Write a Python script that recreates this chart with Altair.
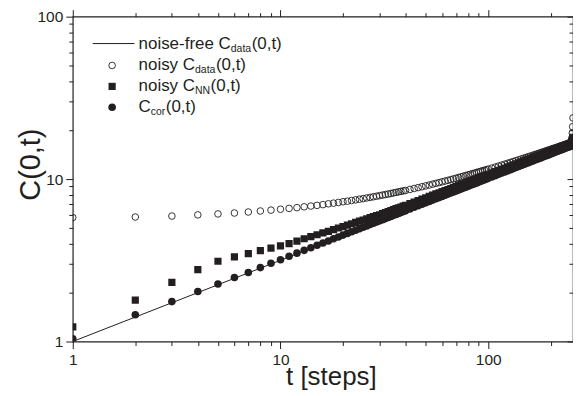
import altair as alt
import pandas as pd

# ---------------- data ----------------
t_steps = [1, 2, 3, 4, 5, 6, 7, 8, 9, 10, 11, 12, 13, 14, 15, 16, 17, 18, 19, 20,
           21, 22, 23, 24, 25, 26, 27, 28, 29, 30, 31, 32, 33, 34, 35, 36, 37, 38, 39, 40,
           42, 44, 46, 48, 50, 52, 54, 56, 58, 60, 62, 64, 66, 68, 70, 72, 74, 76, 78, 80,
           82, 84, 86, 88, 90, 92, 94, 96, 98, 100,
           104, 108, 112, 116, 120, 124, 128, 132, 136, 140, 144, 148, 152, 156, 160, 164,
           168, 172, 176, 180, 184, 188, 192, 196, 200, 204, 208, 212, 216, 220, 224, 228,
           232, 236, 240, 244, 248, 250, 252, 253, 254, 255, 256]

c_cor = [1.04, 1.46, 1.76, 2.03, 2.26, 2.48, 2.66, 2.85, 3.03, 3.19, 3.35, 3.50, 3.64, 3.78,
         3.91, 4.04, 4.16, 4.29, 4.40, 4.52, 4.63, 4.74, 4.84, 4.95, 5.05, 5.15, 5.25, 5.35,
         5.44, 5.53, 5.62, 5.71, 5.80, 5.89, 5.98, 6.06, 6.14, 6.23, 6.31, 6.39,
         6.55, 6.70, 6.85, 7.00, 7.14, 7.28, 7.42, 7.56, 7.69, 7.82, 7.95, 8.08, 8.21, 8.33,
         8.45, 8.57, 8.69, 8.81, 8.92, 9.03, 9.15, 9.26, 9.37, 9.47, 9.58, 9.69, 9.79, 9.90,
         10.0, 10.1,
         10.3, 10.5, 10.69, 10.88, 11.06, 11.25, 11.43, 11.6, 11.78, 11.95, 12.12, 12.29,
         12.45, 12.61, 12.78, 12.93, 13.09, 13.25, 13.4, 13.55, 13.7, 13.85, 13.99, 14.14,
         14.28, 14.43, 14.57, 14.71, 14.84, 14.98, 15.12, 15.25, 15.38, 15.52, 15.65, 15.78,
         15.9, 16.0, 16.1, 16.25, 16.45, 16.75, 17.2]

c_nn = [1.23, 1.80, 2.31, 2.77, 3.12, 3.32, 3.48, 3.63, 3.76, 3.88, 4.01, 4.15, 4.29, 4.42,
        4.54, 4.66, 4.77, 4.89, 5.00, 5.10, 5.21, 5.31, 5.41, 5.51, 5.60, 5.70, 5.79, 5.88,
        5.96, 6.03, 6.12, 6.21, 6.30, 6.39, 6.48, 6.57, 6.65, 6.73, 6.81, 6.89,
        7.06, 7.22, 7.38, 7.53, 7.67, 7.82, 7.96, 8.10, 8.23, 8.37, 8.50, 8.62, 8.75, 8.87,
        9.00, 9.12, 9.24, 9.36, 9.48, 9.59, 9.71, 9.82, 9.94, 10.05, 10.16, 10.27, 10.38,
        10.48, 10.59, 10.70,
        10.91, 11.11, 11.31, 11.51, 11.69, 11.88, 12.07, 12.24, 12.42, 12.60, 12.77, 12.94,
        13.11, 13.27, 13.44, 13.60, 13.76, 13.91, 14.06, 14.22, 14.37, 14.52, 14.66, 14.81,
        14.95, 15.09, 15.23, 15.37, 15.51, 15.65, 15.78, 15.91, 16.04, 16.17, 16.30, 16.43,
        16.56, 16.66, 16.8, 17.0, 17.3, 17.6, 18.1]

c_noisy = [5.80, 5.84, 5.92, 6.02, 6.10, 6.18, 6.27, 6.36, 6.44, 6.52, 6.60, 6.67, 6.75, 6.82,
           6.89, 6.96, 7.04, 7.11, 7.18, 7.25, 7.31, 7.38, 7.45, 7.52, 7.58, 7.65, 7.71, 7.78,
           7.84, 7.91, 7.97, 8.03, 8.09, 8.15, 8.22, 8.28, 8.34, 8.40, 8.46, 8.51,
           8.63, 8.75, 8.86, 8.97, 9.08, 9.19, 9.30, 9.41, 9.51, 9.62, 9.72, 9.82, 9.92, 10.02,
           10.12, 10.22, 10.32, 10.42, 10.51, 10.61, 10.70, 10.79, 10.89, 10.98, 11.07, 11.16,
           11.25, 11.34, 11.42, 11.51,
           11.68, 11.85, 12.02, 12.19, 12.35, 12.51, 12.67, 12.83, 12.98, 13.13, 13.29, 13.44,
           13.58, 13.73, 13.87, 14.02, 14.16, 14.30, 14.44, 14.58, 14.71, 14.85, 14.98, 15.12,
           15.25, 15.38, 15.51, 15.64, 15.76, 15.89, 16.02, 16.14, 16.26, 16.39, 16.51, 16.63,
           16.75, 16.85, 17.2, 17.9, 19.2, 21.0, 23.8]

line_t = [1, 256]
line_c = [1.0, 16.0]

x_major = [1, 10, 100]
x_minor = [2, 3, 4, 5, 6, 7, 8, 9, 20, 30, 40, 50, 60, 70, 80, 90, 200]
y_major = [1, 10, 100]
y_minor = [2, 3, 4, 5, 6, 7, 8, 9, 20, 30, 40, 50, 60, 70, 80, 90]

legend_labels = [("noise-free C", "data", "(0,t)"),
                 ("noisy C", "data", "(0,t)"),
                 ("noisy C", "NN", "(0,t)"),
                 ("C", "cor", "(0,t)")]

# ---------------- styling ----------------
INK = "#231f20"
FONT = "Liberation Sans"
W, H = 502, 326

df = pd.DataFrame({"t": t_steps, "cor": c_cor, "nn": c_nn, "noisy": c_noisy})
line_df = pd.DataFrame({"t": line_t, "c": line_c})

xs = alt.Scale(type="log", domain=[1, 256], nice=False)
ys = alt.Scale(type="log", domain=[1, 100], nice=False)


def axis(orient, values, tick, labels=False, **kw):
    base = dict(orient=orient, values=values, tickSize=tick, labels=labels,
                domain=False, grid=False, ticks=True, tickColor=INK, tickWidth=1,
                labelFont=FONT, labelFontSize=15.5, labelColor=INK, labelFlush=False,
                format="d")
    if "title" not in kw:
        kw["title"] = None
    base.update(kw)
    return alt.Axis(**base)


line = alt.Chart(line_df).mark_line(color=INK, strokeWidth=1, clip=True).encode(
    x=alt.X("t:Q", scale=xs,
            axis=axis("bottom", x_major, 7, labels=True, labelPadding=4,
                      title="t [steps]", titleFont=FONT, titleFontSize=26,
                      titleFontWeight="normal", titleColor=INK, titleX=259, titleY=43,
                      titleBaseline="alphabetic", titleAlign="center")),
    y=alt.Y("c:Q", scale=ys,
            axis=axis("left", y_major, 7, labels=True, labelPadding=3,
                      title="C(0,t)", titleFont=FONT, titleFontSize=29,
                      titleFontWeight="normal", titleColor=INK, titleX=-33, titleY=148,
                      titleBaseline="alphabetic", titleAlign="center")),
)

noisy = alt.Chart(df).mark_point(shape="circle", filled=False, size=44, strokeWidth=0.9,
                                 color=INK, opacity=1, clip=True).encode(
    x=alt.X("t:Q", scale=xs, axis=axis("bottom", x_minor, 4)),
    y=alt.Y("noisy:Q", scale=ys, axis=axis("left", y_minor, 4)),
)

nn = alt.Chart(df).mark_point(shape="square", filled=True, size=52, color=INK,
                              opacity=1, clip=True).encode(
    x=alt.X("t:Q", scale=xs, axis=axis("top", x_major, 7)),
    y=alt.Y("nn:Q", scale=ys, axis=axis("right", y_major, 6, offset=-6)),
)

cor = alt.Chart(df).mark_point(shape="circle", filled=True, size=58, color=INK,
                               opacity=1, clip=True).encode(
    x=alt.X("t:Q", scale=xs, axis=axis("top", x_minor, 4)),
    y=alt.Y("cor:Q", scale=ys, axis=axis("right", y_minor, 4, offset=-4)),
)

# ---------------- legend (drawn in pixel space) ----------------
AW = {'n': 556, 'o': 556, 'i': 222, 's': 500, 'e': 556, '-': 333, 'f': 278, 'r': 333,
      'y': 500, 'C': 722, 'd': 556, 'a': 556, 't': 278, '(': 333, '0': 556, ',': 278,
      ')': 333, 'N': 722, 'c': 500, ' ': 278}


def tw(s, size):
    return sum(AW.get(ch, 556) for ch in s) * size / 1000.0


one = pd.DataFrame({"k": [0]})
row_y = [27, 49, 70, 91]
text_x = 66
marker_x = 39.5
MAIN, SUB = 17, 10.5

legend_layers = [
    alt.Chart(one).mark_rule(color=INK, strokeWidth=1).encode(
        x=alt.value(20), x2=alt.value(62), y=alt.value(row_y[0])),
    alt.Chart(one).mark_point(shape="circle", filled=False, size=44, strokeWidth=0.9,
                              color=INK, opacity=1).encode(
        x=alt.value(marker_x), y=alt.value(row_y[1])),
    alt.Chart(one).mark_point(shape="square", filled=True, size=52, color=INK,
                              opacity=1).encode(
        x=alt.value(marker_x), y=alt.value(row_y[2])),
    alt.Chart(one).mark_point(shape="circle", filled=True, size=58, color=INK,
                              opacity=1).encode(
        x=alt.value(marker_x), y=alt.value(row_y[3])),
]

for (pre, sub, post), yy in zip(legend_labels, row_y):
    x0 = text_x
    x1 = x0 + tw(pre, MAIN)
    x2 = x1 + tw(sub, SUB) + 0.5
    for s, xx, fs, dy in ((pre, x0, MAIN, 0), (sub, x1, SUB, 5), (post, x2, MAIN, 0)):
        legend_layers.append(
            alt.Chart(one).mark_text(text=s, font=FONT, fontSize=fs, color=INK,
                                     align="left", baseline="middle").encode(
                x=alt.value(xx), y=alt.value(yy + dy)))

chart = alt.layer(line, noisy, nn, cor, *legend_layers).resolve_scale(
    x="shared", y="shared"
).resolve_axis(
    x="independent", y="independent"
).properties(
    width=W, height=H,
    autosize=alt.AutoSizeParams(type="none"),
    padding={"left": 65, "top": 8, "right": 0, "bottom": 50},
).configure_view(
    stroke=INK, strokeWidth=1.2
)

chart.save("out.html", embed_options={"renderer": "svg", "actions": False})
